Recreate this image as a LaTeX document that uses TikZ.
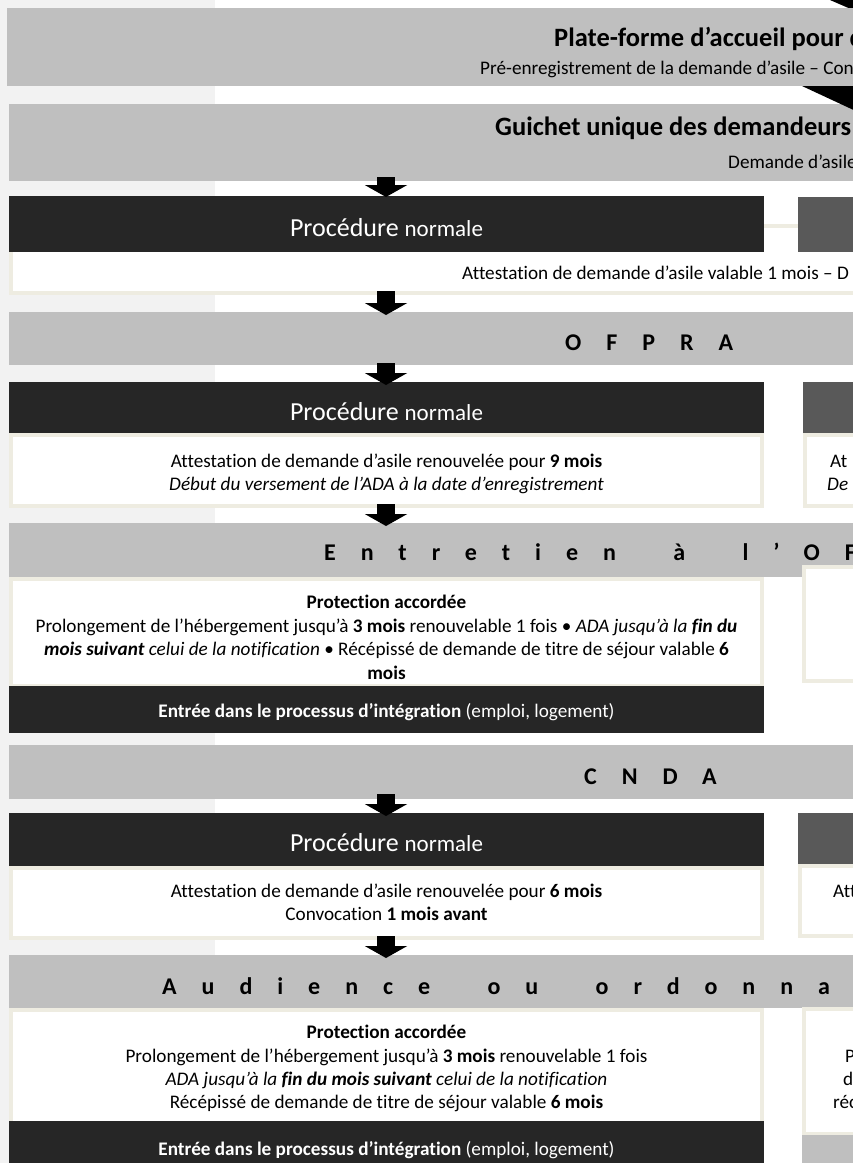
\documentclass[tikz,border=0pt]{standalone}
\usepackage{fontspec}
\setmainfont{Carlito}[Ligatures=NoCommon]
\usetikzlibrary{arrows.meta}
\definecolor{stripgray}{HTML}{F2F2F2}
\definecolor{headgray}{HTML}{BFBFBF}
\definecolor{procblack}{HTML}{262626}
\definecolor{procdark}{HTML}{595959}
\definecolor{beige}{HTML}{EEECE1}
\newcommand{\spread}[1]{{\fontsize{24}{28}\selectfont\bfseries\addfontfeature{LetterSpace=104}#1}}
\newcommand{\hs}{\hspace{27pt}}
\newcommand{\bodysize}{\fontsize{19.2}{23}\selectfont}

\begin{document}
\begin{tikzpicture}[x=1pt, y=-1pt,
    box/.style={anchor=north west, inner sep=0pt, outer sep=0pt},
    bar/.style={box, fill=headgray},
    procbox/.style={box, fill=procblack},
    darkbox/.style={box, fill=procdark},
    panel/.style={box, fill=white, draw=beige, line width=4pt},
    title/.style={inner sep=0pt, anchor=base west, font=\fontsize{26.5}{30}\selectfont\bfseries},
    line/.style={inner sep=0pt, anchor=base, font=\bodysize},
    cut/.style={inner sep=0pt, anchor=base west, font=\bodysize},
    head/.style={inner sep=0pt, anchor=base west},
    proctext/.style={inner sep=0pt, anchor=base, text=white, font=\fontsize{26}{30}\selectfont},
    integtext/.style={inner sep=0pt, anchor=base, text=white, font=\bodysize},
    blockarr/.style={line width=18pt, -{Triangle[width=42pt,length=12pt]}}]
\useasboundingbox (0,0) rectangle (853,1163);
\clip (0,0) rectangle (853,1163);
\fill[white] (0,0) rectangle (853,1163);
\fill[stripgray] (0,0) rectangle (215,1163);

\fill[black] (830,0) -- (860,0) -- (860,13) -- cycle;
\node[bar, minimum width=900, minimum height=78] (accueil) at (7,8) {};
\node[bar, minimum width=900, minimum height=77] (guichet) at (9,104) {};
\fill[black] (802,86) -- (860,86) -- (860,113) -- cycle;
\node[title] (accueil-t) at (554,46) {Plate-forme d’accueil pour d};
\node[cut] (accueil-s) at (480,74) {Pré-enregistrement de la demande d’asile – Con};
\node[title] (guichet-t) at (495,135) {Guichet unique des demandeurs};
\node[cut] (guichet-s) at (728,168) {Demande d’asile};

\node[panel, minimum width=900, minimum height=67] (pan1) at (11,226) {};
\node[procbox, minimum width=755, minimum height=56] (proc1) at (9,196) {};
\node[darkbox, minimum width=100, minimum height=55] (accel1) at (798,197) {};
\node[proctext] (proc1-t) at (386.5,236) {Procédure {\fontsize{23}{26}\selectfont normale}};
\node[cut] (pan1-t) at (462,279) {Attestation de demande d’asile valable 1 mois – D};

\node[bar, minimum width=900, minimum height=53] (ofpra) at (9,312) {};
\node[head] (ofpra-t) at (565,350) {\spread{OFPRA}};
\node[procbox, minimum width=755, minimum height=51] (proc2) at (9,382) {};
\node[darkbox, minimum width=100, minimum height=51] (accel2) at (803,382) {};
\node[panel, minimum width=751, minimum height=71] (pan2) at (11,435) {};
\node[panel, minimum width=100, minimum height=71] (pan2r) at (805,435) {};
\node[proctext] (proc2-t) at (386.5,420) {Procédure {\fontsize{23}{26}\selectfont normale}};
\node[line] (pan2-a) at (386.5,467) {Attestation de demande d’asile renouvelée pour \textbf{9 mois}};
\node[line] (pan2-b) at (386.5,490) {\textit{Début du versement de l’ADA à la date d’enregistrement}};
\node[cut] (pan2r-a) at (830,467) {At};
\node[cut] (pan2r-b) at (827,490) {\textit{De}};

\node[bar, minimum width=900, minimum height=54] (entretien) at (9,523) {};
\node[head] (entretien-t) at (324,560) {\spread{Entretien\hs{} à\hs{} l’OFPRA}};
\node[panel, minimum width=751, minimum height=107] (pan3) at (11,579) {};
\node[panel, minimum width=100, minimum height=114] (pan3r) at (804,567) {};
\node[line] (pan3-a) at (386.5,608) {\textbf{Protection accordée}};
\node[line] (pan3-b) at (386.5,632) {Prolongement de l’hébergement jusqu’à \textbf{3 mois} renouvelable 1 fois • \textit{ADA jusqu’à la \textbf{fin du}}};
\node[line] (pan3-c) at (386.5,655) {\textit{\textbf{mois suivant} celui de la notification} • Récépissé de demande de titre de séjour valable \textbf{6}};
\node[line] (pan3-d) at (386.5,679) {\textbf{mois}};
\node[procbox, minimum width=755, minimum height=47] (integ1) at (9,686) {};
\node[integtext] (integ1-t) at (386.5,717) {\textbf{Entrée dans le processus d’intégration} (emploi, logement)};

\node[bar, minimum width=900, minimum height=54] (cnda) at (9,745) {};
\node[head] (cnda-t) at (584,784) {\spread{CNDA}};
\node[procbox, minimum width=755, minimum height=53] (proc3) at (9,813) {};
\node[darkbox, minimum width=100, minimum height=52] (accel3) at (798,813) {};
\node[panel, minimum width=751, minimum height=70] (pan4) at (11,868) {};
\node[panel, minimum width=100, minimum height=70] (pan4r) at (800,866) {};
\node[proctext] (proc3-t) at (386.5,851) {Procédure {\fontsize{23}{26}\selectfont normale}};
\node[line] (pan4-a) at (386.5,897) {Attestation de demande d’asile renouvelée pour \textbf{6 mois}};
\node[line] (pan4-b) at (386.5,920) {Convocation \textbf{1 mois avant}};
\node[cut] (pan4r-a) at (833,897) {Att};

\node[bar, minimum width=900, minimum height=53] (audience) at (9,955) {};
\node[head] (audience-t) at (162,994) {\spread{Audience\hs{} ou\hs{} ordonnance}};
\node[panel, minimum width=751, minimum height=114] (pan5) at (11,1010) {};
\node[panel, minimum width=100, minimum height=125] (pan5r) at (804,1009) {};
\node[bar, minimum width=100, minimum height=40] (pan5g) at (802,1135) {};
\node[procbox, minimum width=755, minimum height=50] (integ2) at (9,1121) {};
\node[line] (pan5-a) at (386.5,1038) {\textbf{Protection accordée}};
\node[line] (pan5-b) at (386.5,1062) {Prolongement de l’hébergement jusqu’à \textbf{3 mois} renouvelable 1 fois};
\node[line] (pan5-c) at (386.5,1085) {\textit{ADA jusqu’à la \textbf{fin du mois suivant} celui de la notification}};
\node[line] (pan5-d) at (386.5,1108) {Récépissé de demande de titre de séjour valable \textbf{6 mois}};
\node[cut] (pan5r-a) at (845,1062) {P};
\node[cut] (pan5r-b) at (843,1085) {d};
\node[cut] (pan5r-c) at (833,1108) {réc};
\node[integtext] (integ2-t) at (386.5,1155) {\textbf{Entrée dans le processus d’intégration} (emploi, logement)};

\coordinate (ax) at (386,0);
\draw[blockarr] ([yshift=4pt]guichet.south -| ax) -- ([yshift=-1pt]proc1.north -| ax);
\draw[blockarr] ([yshift=2pt]pan1.south -| ax) -- ([yshift=-3pt]ofpra.north -| ax);
\draw[blockarr] ([yshift=2pt]ofpra.south -| ax) -- ([yshift=-3pt]proc2.north -| ax);
\draw[blockarr] ([yshift=2pt]pan2.south -| ax) -- ([yshift=-3pt]entretien.north -| ax);
\draw[blockarr] ([yshift=5pt]cnda.south -| ax) -- ([yshift=-3pt]proc3.north -| ax);
\draw[blockarr] ([yshift=2pt]pan4.south -| ax) -- ([yshift=-3pt]audience.north -| ax);
\end{tikzpicture}
\end{document}
